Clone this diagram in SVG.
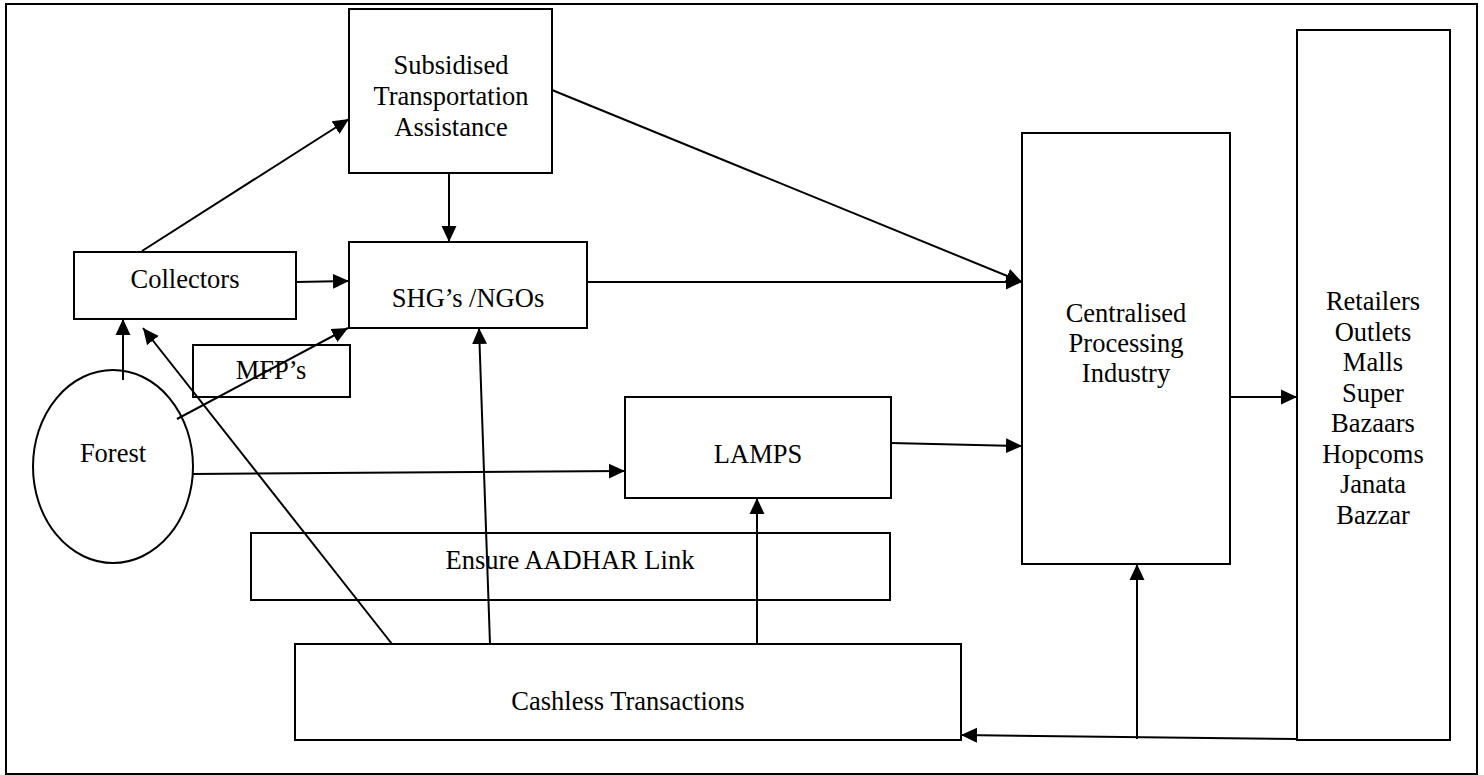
<svg xmlns="http://www.w3.org/2000/svg" width="1484" height="775" viewBox="0 0 1484 775">
<style>
  .box { fill: #ffffff; stroke: #000000; stroke-width: 2; }
  .lbl { font-family: "Liberation Serif", "Times New Roman", serif; font-size: 26.5px; fill: #000000; text-anchor: middle; }
  .con { stroke: #000000; stroke-width: 2; fill: none; }
  .arr { marker-end: url(#ah); }
</style>
<defs>
  <marker id="ah" markerUnits="userSpaceOnUse" markerWidth="16" markerHeight="16" viewBox="0 0 15 14" refX="15" refY="7" orient="auto">
    <path d="M0,0 L15,7 L0,14 z" fill="#000000"/>
  </marker>
</defs>
<rect x="0" y="0" width="1484" height="775" fill="#ffffff"/>
<rect id="frame" x="6" y="4" width="1471" height="770" fill="none" stroke="#000000" stroke-width="2"/>

<g id="subsidised">
  <rect class="box" x="349" y="9" width="203" height="164"/>
  <text class="lbl" x="451" y="74">Subsidised</text>
  <text class="lbl" x="451" y="105">Transportation</text>
  <text class="lbl" x="451" y="136">Assistance</text>
</g>
<g id="collectors">
  <rect class="box" x="74" y="252" width="222" height="67"/>
  <text class="lbl" x="185" y="288">Collectors</text>
</g>
<g id="shg">
  <rect class="box" x="349" y="242" width="238" height="86"/>
  <text class="lbl" x="468" y="307">SHG’s /NGOs</text>
</g>
<g id="mfp">
  <rect class="box" x="193" y="345" width="157" height="52"/>
  <text class="lbl" x="271" y="379">MFP’s</text>
</g>
<g id="forest">
  <ellipse class="box" cx="113" cy="466.5" rx="80" ry="96.5"/>
  <text class="lbl" x="113" y="462">Forest</text>
</g>
<g id="lamps">
  <rect class="box" x="625" y="397" width="266" height="101"/>
  <text class="lbl" x="758" y="463">LAMPS</text>
</g>
<g id="aadhar">
  <rect class="box" x="251" y="533" width="639" height="67"/>
  <text class="lbl" x="570" y="569">Ensure AADHAR Link</text>
</g>
<g id="cashless">
  <rect class="box" x="295" y="644" width="666" height="96"/>
  <text class="lbl" x="628" y="710">Cashless Transactions</text>
</g>
<g id="centralised">
  <rect class="box" x="1022" y="133" width="208" height="431"/>
  <text class="lbl" x="1126" y="322">Centralised</text>
  <text class="lbl" x="1126" y="352">Processing</text>
  <text class="lbl" x="1126" y="382">Industry</text>
</g>
<g id="retailers">
  <rect class="box" x="1297" y="30" width="153" height="710"/>
  <text class="lbl" x="1373" y="310">Retailers</text>
  <text class="lbl" x="1373" y="340.5">Outlets</text>
  <text class="lbl" x="1373" y="371">Malls</text>
  <text class="lbl" x="1373" y="401.5">Super</text>
  <text class="lbl" x="1373" y="432">Bazaars</text>
  <text class="lbl" x="1373" y="462.5">Hopcoms</text>
  <text class="lbl" x="1373" y="493">Janata</text>
  <text class="lbl" x="1373" y="523.5">Bazzar</text>
</g>

<g id="connectors">
  <line class="con arr" x1="142" y1="251" x2="349" y2="119"/>
  <line class="con arr" x1="449" y1="173" x2="449" y2="242"/>
  <line class="con arr" x1="296" y1="282" x2="349" y2="281"/>
  <line class="con arr" x1="123" y1="380" x2="123" y2="319"/>
  <line class="con arr" x1="177" y1="419" x2="348" y2="328"/>
  <line class="con arr" x1="392" y1="644" x2="143" y2="328"/>
  <line class="con arr" x1="490" y1="644" x2="479" y2="328"/>
  <line class="con arr" x1="193" y1="474" x2="625" y2="471"/>
  <line class="con arr" x1="757" y1="644" x2="757" y2="498"/>
  <line class="con arr" x1="552" y1="90" x2="1022" y2="282"/>
  <line class="con arr" x1="587" y1="282" x2="1022" y2="282"/>
  <line class="con arr" x1="891" y1="443" x2="1022" y2="446"/>
  <line class="con arr" x1="1230" y1="397" x2="1297" y2="397"/>
  <line class="con arr" x1="1297" y1="739" x2="961" y2="735"/>
  <line class="con arr" x1="1137" y1="739" x2="1137" y2="564"/>
</g>
</svg>
